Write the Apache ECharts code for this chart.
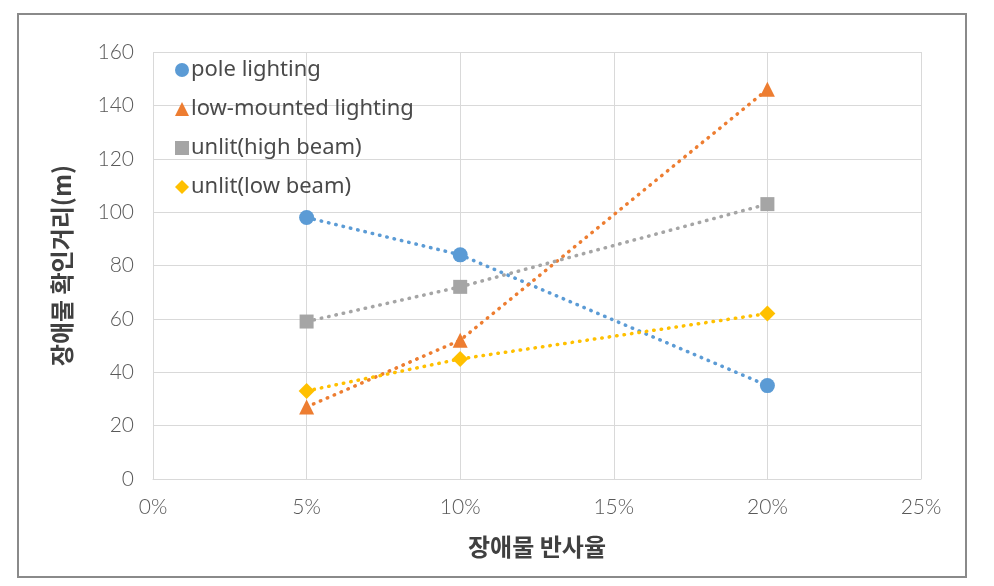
<!DOCTYPE html>
<html><head><meta charset="utf-8">
<script src="https://cdn.jsdelivr.net/npm/echarts@6/dist/echarts.min.js"></script>
<style>html,body{margin:0;padding:0;background:#fff}#c{width:994px;height:586px}</style>
</head><body><div id="c"></div>
<script>
var xValues = [5, 10, 20];
var seriesNames = ['pole lighting', 'low-mounted lighting', 'unlit(high beam)', 'unlit(low beam)'];
var poleLighting = [98, 84, 35];
var lowMounted = [27, 52, 146];
var unlitHigh = [59, 72, 103];
var unlitLow = [33, 45, 62];
var xTicks = [0, 5, 10, 15, 20, 25];
var yTicks = [0, 20, 40, 60, 80, 100, 120, 140, 160];
var xTitle = '장애물 반사율';
var yTitle = '장애물 확인거리(m)';

var colors = ['#5B9BD5', '#ED7D31', '#A5A5A5', '#FFC000'];
var symbols = ['circle', 'triangle', 'rect', 'diamond'];
var sizes = [15, 15, 14, 16];
var datasets = [poleLighting, lowMounted, unlitHigh, unlitLow];
var font = '"Noto Sans CJK KR", "Noto Sans", sans-serif';
var tickFont = 'Lato, "Noto Sans", sans-serif';

var chart = echarts.init(document.getElementById('c'));
chart.setOption({
  animation: false,
  color: colors,
  grid: {left: 153, right: 73, top: 52, bottom: 107},
  graphic: [{type: 'rect', shape: {x: 18, y: 14, width: 948, height: 563}, style: {fill: 'none', stroke: '#8a8a8a', lineWidth: 2}, z: -1}],
  legend: {
    orient: 'vertical', left: 170, top: 54, itemGap: 17, itemWidth: 14, itemHeight: 14,
    textStyle: {fontFamily: '"Noto Sans", sans-serif', fontSize: 22, color: '#4a4a4a', padding: [0, 0, 0, -3]},
    data: seriesNames.map(function (n, i) { return {name: n, icon: symbols[i]}; })
  },
  xAxis: {
    type: 'value', min: xTicks[0], max: xTicks[xTicks.length - 1], interval: 5,
    name: xTitle, nameLocation: 'middle', nameGap: 56,
    nameTextStyle: {fontFamily: font, fontSize: 24, fontWeight: 'bold', color: '#404040'},
    axisLine: {lineStyle: {color: '#D9D9D9', width: 1}},
    axisTick: {show: false},
    axisLabel: {formatter: '{value}%', margin: 18, fontFamily: tickFont, fontSize: 21, fontWeight: 300, color: '#595959'},
    splitLine: {show: true, lineStyle: {color: '#D9D9D9', width: 1}}
  },
  yAxis: {
    type: 'value', min: yTicks[0], max: yTicks[yTicks.length - 1], interval: 20,
    name: yTitle, nameLocation: 'middle', nameGap: 79,
    nameTextStyle: {fontFamily: font, fontSize: 24, fontWeight: 'bold', color: '#404040'},
    axisLine: {show: false}, axisTick: {show: false},
    axisLabel: {margin: 19, fontFamily: tickFont, fontSize: 21, fontWeight: 300, color: '#595959'},
    splitLine: {lineStyle: {color: '#D9D9D9', width: 1}}
  },
  series: seriesNames.map(function (n, i) {
    return {
      name: n, type: 'line', symbol: symbols[i], symbolSize: sizes[i],
      data: xValues.map(function (x, j) { return [x, datasets[i][j]]; }),
      lineStyle: {color: colors[i], width: 3.5, type: [0.5, 7], cap: 'round'},
      itemStyle: {color: colors[i]}
    };
  })
});
</script></body></html>
